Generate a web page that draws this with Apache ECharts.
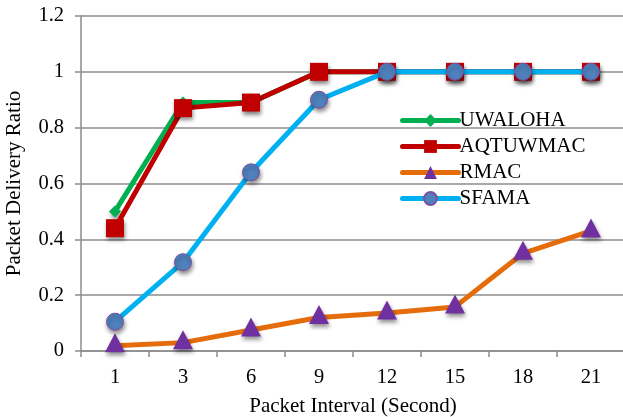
<!DOCTYPE html>
<html>
<head>
<meta charset="utf-8">
<script src="https://cdn.jsdelivr.net/npm/echarts@6/dist/echarts.min.js"></script>
<style>
  html, body { margin: 0; padding: 0; background: #fff; }
  #chart { width: 623px; height: 417px; }
</style>
</head>
<body>
<div id="chart"></div>
<script>
// Packet interval (s) on the x axis
const intervals = ['1', '3', '6', '9', '12', '15', '18', '21'];

// Packet delivery ratio per protocol
const uwaloha  = [0.50, 0.89, 0.89, 1.00, 1.00, 1.00, 1.00, 1.00];
const aqtuwmac = [0.44, 0.87, 0.89, 1.00, 1.00, 1.00, 1.00, 1.00];
const rmac     = [0.019, 0.03, 0.075, 0.12, 0.136, 0.158, 0.35, 0.43];
const sfama    = [0.105, 0.318, 0.64, 0.90, 1.00, 1.00, 1.00, 1.00];

const yTicks = [0, 0.2, 0.4, 0.6, 0.8, 1, 1.2];

const serif = 'Liberation Serif, Times New Roman, serif';
const shadow = { shadowBlur: 4, shadowColor: 'rgba(0,0,0,0.45)', shadowOffsetY: 3, shadowOffsetX: 1 };

const chart = echarts.init(document.getElementById('chart'));
chart.setOption({
  animation: false,
  backgroundColor: '#fff',
  grid: { left: 81, right: -2, top: 16, bottom: 66, containLabel: false, outerBoundsMode: 'none' },
  legend: {
    orient: 'vertical',
    left: 395,
    top: 105,
    itemWidth: 56,
    itemHeight: 16,
    itemGap: 5,
    lineStyle: { width: 5, cap: 'round' },
    textStyle: { fontFamily: serif, fontSize: 21, color: '#000', padding: [0, 0, 0, -4] },
    data: ['UWALOHA', 'AQTUWMAC', 'RMAC', 'SFAMA']
  },
  xAxis: {
    type: 'category',
    data: intervals,
    boundaryGap: true,
    name: 'Packet Interval (Second)',
    nameLocation: 'middle',
    nameGap: 45,
    nameTextStyle: { fontFamily: serif, fontSize: 21, color: '#000' },
    axisLine: { lineStyle: { color: '#8c8c8c', width: 1.5 } },
    axisTick: { show: true, alignWithLabel: false, length: 6, lineStyle: { color: '#8c8c8c', width: 1.5 } },
    axisLabel: { fontFamily: serif, fontSize: 20.5, color: '#000', margin: 16 },
    splitLine: { show: false }
  },
  yAxis: {
    type: 'value',
    min: 0,
    max: 1.2,
    interval: 0.2,
    name: 'Packet Delivery Ratio',
    nameLocation: 'middle',
    nameGap: 56,
    nameRotate: 90,
    nameTextStyle: { fontFamily: serif, fontSize: 21, color: '#000' },
    axisLine: { show: true, lineStyle: { color: '#8c8c8c', width: 1.5 } },
    axisTick: { show: true, length: 6, lineStyle: { color: '#8c8c8c', width: 1.5 } },
    axisLabel: {
      fontFamily: serif, fontSize: 20.5, color: '#000', margin: 17,
      formatter: v => {
        const t = yTicks.find(x => Math.abs(x - v) < 1e-9);
        return t === undefined ? '' : String(t);
      }
    },
    splitLine: { show: true, lineStyle: { color: '#8c8c8c', width: 1.5 } }
  },
  series: [
    {
      name: 'UWALOHA',
      type: 'line',
      data: uwaloha,
      symbol: 'diamond',
      symbolSize: 12,
      lineStyle: { color: '#00B050', width: 5 },
      itemStyle: Object.assign({ color: '#00B050' }, shadow),
      z: 2
    },
    {
      name: 'AQTUWMAC',
      type: 'line',
      data: aqtuwmac,
      symbol: 'rect',
      symbolSize: 18,
      lineStyle: { color: '#C00000', width: 5 },
      itemStyle: Object.assign({ color: '#C00000' }, shadow),
      z: 3
    },
    {
      name: 'RMAC',
      type: 'line',
      data: rmac,
      symbol: 'triangle',
      symbolSize: [20, 19],
      symbolOffset: [0, -3],
      lineStyle: { color: '#E46C0A', width: 5 },
      itemStyle: Object.assign({ color: '#7030A0' }, shadow),
      z: 4
    },
    {
      name: 'SFAMA',
      type: 'line',
      data: sfama,
      symbol: 'circle',
      symbolSize: 17,
      lineStyle: { color: '#00B0F0', width: 5 },
      itemStyle: Object.assign({ color: '#4F81BD', borderColor: '#7E4FA0', borderWidth: 1 }, shadow),
      z: 5
    }
  ]
});
</script>
</body>
</html>
